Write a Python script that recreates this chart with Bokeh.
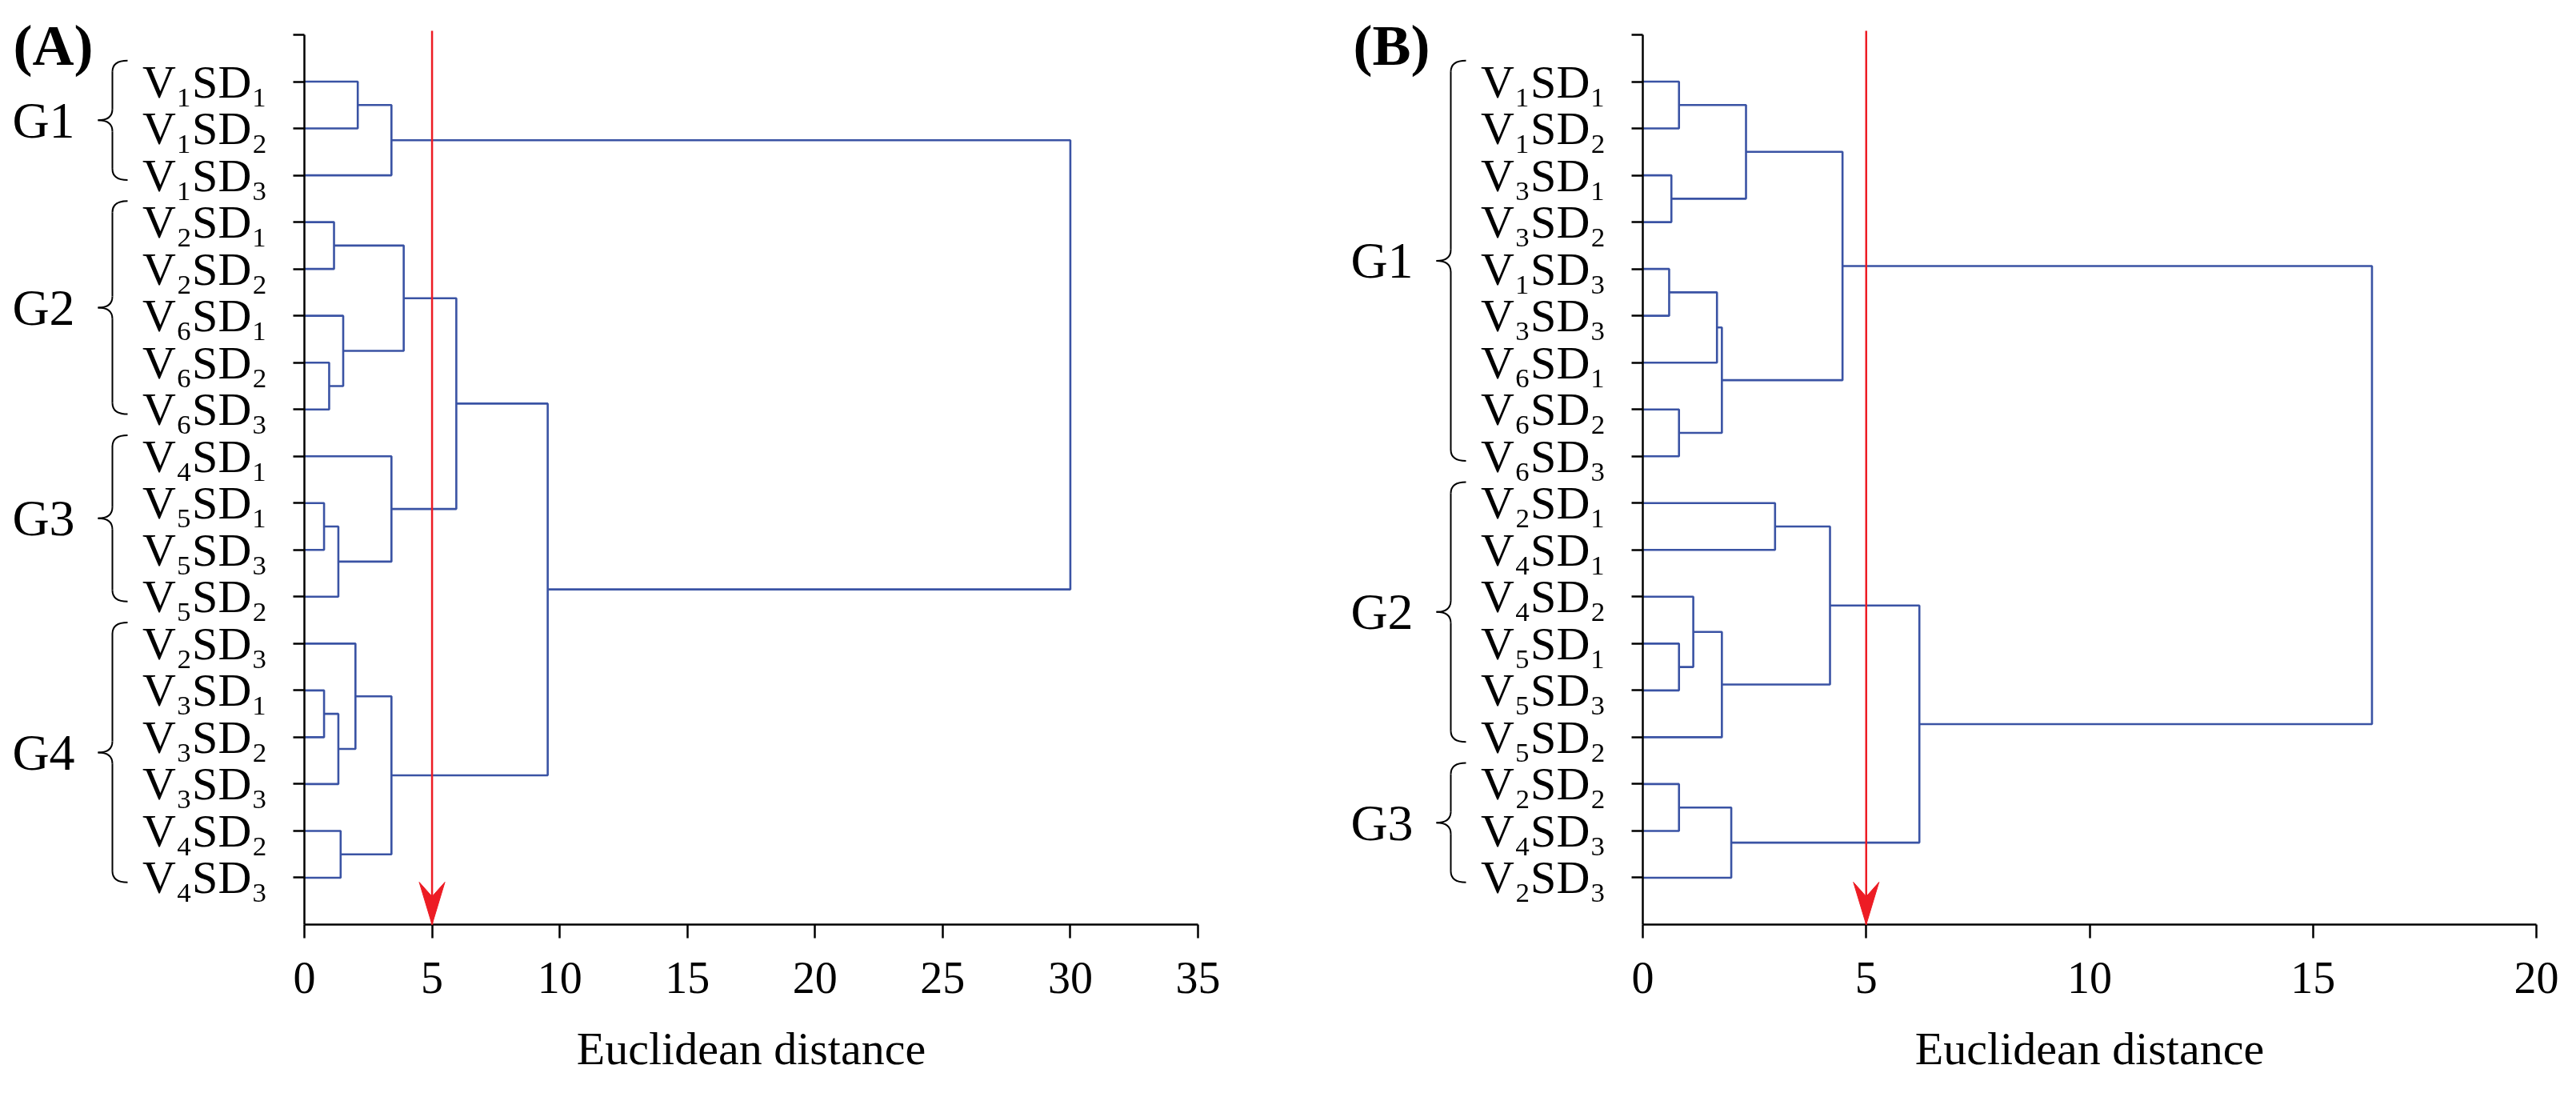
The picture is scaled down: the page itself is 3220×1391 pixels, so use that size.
from bokeh.plotting import figure
from bokeh.layouts import row
from bokeh.models import Range1d, FixedTicker, ColumnDataSource
from bokeh.core.properties import value
from bokeh.embed import file_html
from bokeh.resources import INLINE

# ---------------- data ----------------
titles = ["(A)", "(B)"]
axis_title = "Euclidean distance"

leaves_A = ["V1SD1", "V1SD2", "V1SD3", "V2SD1", "V2SD2", "V6SD1", "V6SD2", "V6SD3",
            "V4SD1", "V5SD1", "V5SD3", "V5SD2", "V2SD3", "V3SD1", "V3SD2", "V3SD3",
            "V4SD2", "V4SD3"]
# merges: (child a, child b, distance); indices >= n refer to earlier merges
merges_A = [(0, 1, 2.09), (18, 2, 3.41), (3, 4, 1.16), (6, 7, 0.97), (5, 21, 1.52),
            (20, 22, 3.89), (9, 10, 0.77), (24, 11, 1.33), (8, 25, 3.41), (23, 26, 5.95),
            (13, 14, 0.77), (28, 15, 1.33), (12, 29, 2.00), (16, 17, 1.42), (30, 31, 3.41),
            (27, 32, 9.53), (19, 33, 30.0)]
groups_A = [("G1", 0, 2), ("G2", 3, 7), ("G3", 8, 11), ("G4", 12, 17)]
xticks_A = [0, 5, 10, 15, 20, 25, 30, 35]
cut_A = 5

leaves_B = ["V1SD1", "V1SD2", "V3SD1", "V3SD2", "V1SD3", "V3SD3", "V6SD1", "V6SD2",
            "V6SD3", "V2SD1", "V4SD1", "V4SD2", "V5SD1", "V5SD3", "V5SD2", "V2SD2",
            "V4SD3", "V2SD3"]
merges_B = [(0, 1, 0.81), (2, 3, 0.64), (18, 19, 2.31), (4, 5, 0.59), (21, 6, 1.66),
            (7, 8, 0.81), (22, 23, 1.77), (20, 24, 4.47), (9, 10, 2.96), (12, 13, 0.81),
            (11, 27, 1.13), (28, 14, 1.77), (26, 29, 4.19), (15, 16, 0.81), (31, 17, 1.98),
            (30, 32, 6.19), (25, 33, 16.32)]
groups_B = [("G1", 0, 8), ("G2", 9, 14), ("G3", 15, 17)]
xticks_B = [0, 5, 10, 15, 20]
cut_B = 5

# ---------------- style ----------------
FONT = "Liberation Serif"
BLUE = "#3A53A4"
RED = "#ED1C24"
SUB = str.maketrans("0123456789", "\u2080\u2081\u2082\u2083\u2084\u2085\u2086\u2087\u2088\u2089")

FRAME_L, FRAME_T, FRAME_W, FRAME_H, FIG_H = 380, 43, 1117, 1112, 1375


def make_panel(title, leaves, merges, groups, xticks, cut, width):
    n = len(leaves)
    xmax = xticks[-1]
    p = figure(width=width, height=FIG_H,
               x_range=Range1d(0, xmax), y_range=Range1d(n + 1, 0),
               output_backend="svg", toolbar_location=None,
               min_border_left=FRAME_L, min_border_top=FRAME_T,
               min_border_right=width - FRAME_L - FRAME_W,
               min_border_bottom=FIG_H - FRAME_T - FRAME_H)
    p.grid.visible = False
    p.outline_line_color = None
    p.background_fill_color = "white"
    p.border_fill_color = "white"

    ppx = FRAME_W / xmax
    ppy = FRAME_H / (n + 1)

    # dendrogram links
    pos = {i: (0.0, i + 1.0) for i in range(n)}
    xs, ys = [], []
    for k, (a, b, h) in enumerate(merges):
        ha, ya = pos[a]
        hb, yb = pos[b]
        xs.append([ha, h, h, hb])
        ys.append([ya, ya, yb, yb])
        pos[n + k] = (h, (ya + yb) / 2)
    p.multi_line(xs, ys, line_color=BLUE, line_width=2.6)

    # cut line with arrow
    ytop = -5 / ppy
    p.segment(x0=[cut], y0=[ytop], x1=[cut], y1=[n + 1], line_color=RED,
              line_width=2.5, level="annotation")
    hx = [cut - 16 / ppx, cut, cut + 16 / ppx, cut]
    hy = [n + 1 - 53 / ppy, n + 1 - 35 / ppy, n + 1 - 53 / ppy, n + 1]
    p.patch(hx, hy, fill_color=RED, line_color=RED, line_width=1, level="annotation")

    # axes
    for ax in (p.xaxis[0], p.yaxis[0]):
        ax.axis_line_color = "black"
        ax.axis_line_width = 2.5
        ax.major_tick_line_color = "black"
        ax.major_tick_line_width = 2.5
        ax.major_tick_in = 0
        ax.minor_tick_line_color = None
        ax.major_label_text_font = FONT
        ax.major_label_text_color = "black"
    xa = p.xaxis[0]
    xa.ticker = FixedTicker(ticks=xticks)
    xa.major_tick_out = 17
    xa.major_label_standoff = 30
    xa.major_label_text_font_size = "56px"
    xa.axis_label = axis_title
    xa.axis_label_text_font = FONT
    xa.axis_label_text_font_style = "normal"
    xa.axis_label_text_font_size = "58px"
    xa.axis_label_text_color = "black"
    xa.axis_label_standoff = 34

    ya_ = p.yaxis[0]
    ya_.ticker = FixedTicker(ticks=list(range(0, n + 1)))
    ya_.major_tick_out = 14
    ya_.major_label_standoff = 32
    ya_.major_label_text_font_size = "58px"
    overrides = {0: ""}
    for i, lab in enumerate(leaves):
        overrides[i + 1] = lab.translate(SUB)
    ya_.major_label_overrides = overrides

    # group braces and labels
    tip, spine, cusp = -221 / ppx, -240 / ppx, -258 / ppx
    r = 14 / ppy
    q = dict(x0=[], y0=[], x1=[], y1=[], cx=[], cy=[])
    sx0, sy0, sx1, sy1 = [], [], [], []
    gx, gy, gt = [], [], []

    def quad(a, b, c):
        q["x0"].append(a[0]); q["y0"].append(a[1])
        q["x1"].append(b[0]); q["y1"].append(b[1])
        q["cx"].append(c[0]); q["cy"].append(c[1])

    for name, s, e in groups:
        top = s + 1 - 0.45
        bot = e + 1 + 0.10
        mid = (top + bot) / 2
        quad((tip, top), (spine, top + r), (spine, top))
        quad((spine, mid - r), (cusp, mid), (spine, mid))
        quad((spine, mid + r), (cusp, mid), (spine, mid))
        quad((tip, bot), (spine, bot - r), (spine, bot))
        sx0 += [spine, spine]; sy0 += [top + r, mid + r]
        sx1 += [spine, spine]; sy1 += [mid - r, bot - r]
        gx.append(0); gy.append(mid); gt.append(name)
    p.quadratic(source=ColumnDataSource(q), x0="x0", y0="y0", x1="x1", y1="y1",
                cx="cx", cy="cy", line_color="black", line_width=2, level="annotation")
    p.segment(x0=sx0, y0=sy0, x1=sx1, y1=sy1, line_color="black", line_width=2,
              level="annotation")
    p.text(x=gx, y=gy, text=gt, x_offset=-326, text_align="center",
           text_baseline="middle", text_font=value(FONT), text_font_size="64px",
           text_color="black", level="annotation")

    # panel title
    p.text(x=[0], y=[0], text=[title], x_offset=-314, y_offset=13,
           text_align="center", text_baseline="middle", text_font=value(FONT),
           text_font_size="72px", text_font_style="bold", text_color="black",
           level="annotation")
    return p


pA = make_panel(titles[0], leaves_A, merges_A, groups_A, xticks_A, cut_A, 1673)
pB = make_panel(titles[1], leaves_B, merges_B, groups_B, xticks_B, cut_B, 1531)

layout = row(pA, pB)
open("out.html", "w").write(file_html(layout, INLINE))
